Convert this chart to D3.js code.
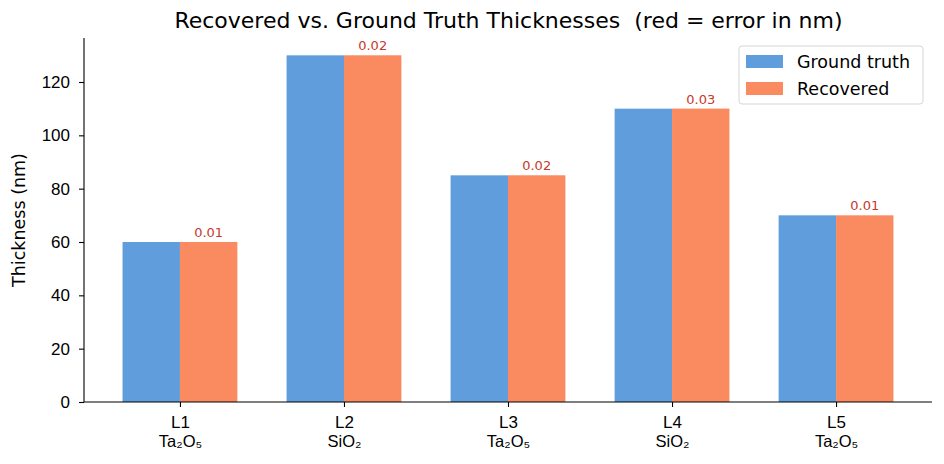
<!DOCTYPE html>
<html>
<head>
<meta charset="utf-8">
<script src="https://cdn.jsdelivr.net/npm/d3@7"></script>
<style>
  body { margin: 0; background: #fff; }
  svg { font-family: "DejaVu Sans", sans-serif; }
</style>
</head>
<body>
<svg id="chart" width="944" height="464"></svg>
<script>
// layers and their materials
const layers = ["L1", "L2", "L3", "L4", "L5"];
const materials = ["Ta₂O₅", "SiO₂", "Ta₂O₅", "SiO₂", "Ta₂O₅"];
const groundTruth = [60, 130, 85, 110, 70];
const recovered = [60.01, 130.02, 85.02, 110.03, 70.01];
const errors = [0.01, 0.02, 0.02, 0.03, 0.01];
const yTicks = [0, 20, 40, 60, 80, 100, 120];

const blue = "#5f9ddc", orange = "#fa8b61", errColor = "#c8382c";

let svg = d3.select("#chart");
let m = {left: 84, right: 932, top: 38, bottom: 402};
let barW = 0.35;

let x = d3.scaleLinear()
    .domain([-0.585, 4.585])
    .range([m.left, m.right]);
let y = d3.scaleLinear()
    .domain([0, 136.5])
    .range([m.bottom, m.top]);

// bars
let g = svg.append("g");
g.selectAll(".gt")
    .data(groundTruth)
    .enter()
    .append("rect")
      .attr("x", (d, i) => x(i - barW))
      .attr("y", d => y(d))
      .attr("width", x(barW) - x(0))
      .attr("height", d => y(0) - y(d))
      .attr("fill", blue);
g.selectAll(".rec")
    .data(recovered)
    .enter()
    .append("rect")
      .attr("x", (d, i) => x(i))
      .attr("y", d => y(d))
      .attr("width", x(barW) - x(0))
      .attr("height", d => y(0) - y(d))
      .attr("fill", orange);

// error labels
g.selectAll(".err")
    .data(errors)
    .enter()
    .append("text")
      .attr("x", (d, i) => x(i + barW / 2))
      .attr("y", (d, i) => y(recovered[i]) - 5)
      .attr("text-anchor", "middle")
      .style("font-size", "13px")
      .attr("fill", errColor)
      .text(d => d.toFixed(2));

// axes
let xAxis = svg.append("g")
    .attr("transform", "translate(0," + m.bottom + ")")
    .call(d3.axisBottom(x).tickValues(d3.range(layers.length)).tickSize(5).tickFormat(""));
xAxis.select(".domain").attr("d", "M" + m.left + ",0H" + m.right);
xAxis.selectAll(".tick").each(function(d) {
    let t = d3.select(this);
    t.append("text")
        .attr("fill", "#000").attr("text-anchor", "middle")
        .attr("y", 26).style("font-size", "17px")
        .text(layers[d]);
    t.append("text")
        .attr("fill", "#000").attr("text-anchor", "middle")
        .attr("y", 45).style("font-size", "16.5px")
        .text(materials[d]);
});

let yAxis = svg.append("g")
    .attr("transform", "translate(" + m.left + ",0)")
    .call(d3.axisLeft(y).tickValues(yTicks).tickSize(5).tickPadding(9));
yAxis.select(".domain").attr("d", "M0," + m.top + "V" + m.bottom);
yAxis.selectAll("text").style("font-size", "17px").attr("fill", "#000");
svg.selectAll(".domain, .tick line").attr("stroke", "#000").attr("stroke-width", 1.1);

// y label
svg.append("text")
    .attr("transform", "translate(25," + ((m.top + m.bottom) / 2) + ") rotate(-90)")
    .attr("text-anchor", "middle")
    .style("font-size", "17.5px")
    .text("Thickness (nm)");

// title
svg.append("text")
    .attr("x", (m.left + m.right) / 2 + 0.5)
    .attr("y", 28)
    .attr("text-anchor", "middle")
    .style("font-size", "22px")
    .style("white-space", "pre")
    .text("Recovered vs. Ground Truth Thicknesses  (red = error in nm)");

// legend
let lg = svg.append("g").attr("transform", "translate(739,46)");
lg.append("rect")
    .attr("width", 184).attr("height", 58).attr("rx", 3)
    .attr("fill", "#fff").attr("stroke", "#d5d5d5");
[["Ground truth", blue], ["Recovered", orange]].forEach((it, i) => {
    lg.append("rect").attr("x", 7).attr("y", 9 + i * 27)
        .attr("width", 37).attr("height", 13).attr("fill", it[1]);
    lg.append("text").attr("x", 58).attr("y", 22 + i * 27)
        .style("font-size", "17.5px").text(it[0]);
});
</script>
</body>
</html>
